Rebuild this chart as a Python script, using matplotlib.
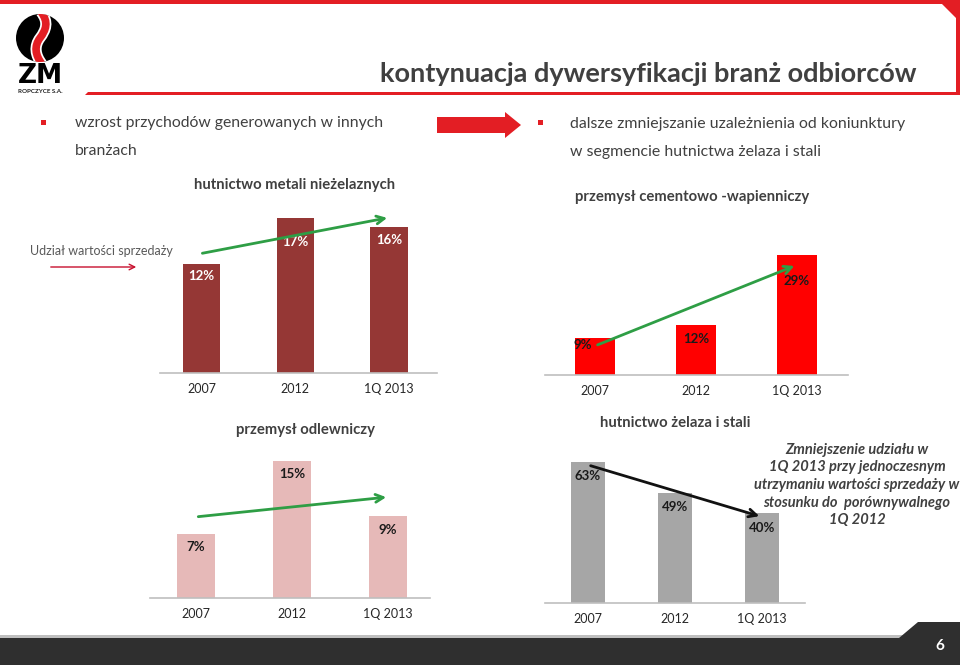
import matplotlib
matplotlib.use('Agg')
import matplotlib.pyplot as plt
from matplotlib.patches import Circle, Rectangle, Polygon, PathPatch
from matplotlib.path import Path

plt.rcParams['font.family'] = ['Lato', 'DejaVu Sans']

# dane
categories = ['2007', '2012', '1Q 2013']
metale_niezelazne = [12, 17, 16]
cementowo_wapienniczy = [9, 12, 29]
odlewniczy = [7, 15, 9]
zelaza_stali = [63, 49, 40]

W, H = 960, 665
fig = plt.figure(figsize=(9.6, 6.65), dpi=100)

# tło slajdu w pikselach
bg = fig.add_axes([0, 0, 1, 1])
bg.set_xlim(0, W)
bg.set_ylim(H, 0)
bg.axis('off')

RED = '#E31E24'
DARK = '#404040'

# ramka
bg.add_patch(Rectangle((0, 0), W, 4, color=RED, lw=0))
bg.add_patch(Rectangle((956, 0), 4, 95, color=RED, lw=0))
bg.add_patch(Polygon([(938, 0), (960, 0), (960, 22)], color=RED, lw=0))
bg.add_patch(Polygon([(88, 92), (960, 92), (960, 95), (85, 95)], color=RED, lw=0))

# logo
circ = Circle((40, 38), 24, color='black', lw=0)
bg.add_patch(circ)
s_path = Path([(41, 12), (49, 22), (46, 30), (40, 38), (34, 46), (35, 55), (42, 64)],
              [Path.MOVETO, Path.CURVE4, Path.CURVE4, Path.CURVE4,
               Path.CURVE4, Path.CURVE4, Path.CURVE4])
for lw, c in [(8, 'white'), (5.5, RED)]:
    p = PathPatch(s_path, fill=False, lw=lw, edgecolor=c, capstyle='butt')
    bg.add_patch(p)
    p.set_clip_path(circ)
bg.text(40, 83, 'ZM', ha='center', va='baseline', fontsize=19, fontweight='bold',
        color='black', family=['DejaVu Sans'])
bg.text(40, 91.5, 'ROPCZYCE S.A.', ha='center', va='center', fontsize=4.5,
        fontweight='bold', color='#222222')

# tytuł
bg.text(648, 74, 'kontynuacja dywersyfikacji branż odbiorców', ha='center',
        va='center', fontsize=19.5, fontweight='bold', color=DARK)

# punkty
bg.add_patch(Rectangle((41, 120), 5, 5, color=RED, lw=0))
bg.text(75, 123, 'wzrost przychodów generowanych w innych', va='center',
        fontsize=11.3, color=DARK)
bg.text(75, 151, 'branżach', va='center', fontsize=11.3, color=DARK)
bg.add_patch(Polygon([(437, 117), (505, 117), (505, 112), (521, 125),
                      (505, 138), (505, 133), (437, 133)], color=RED, lw=0))
bg.add_patch(Rectangle((538, 120), 5, 5, color=RED, lw=0))
bg.text(570, 124, 'dalsze zmniejszanie uzależnienia od koniunktury', va='center',
        fontsize=11.4, color=DARK)
bg.text(570, 152, 'w segmencie hutnictwa żelaza i stali', va='center',
        fontsize=11.4, color=DARK)

bg.text(30, 251, 'Udział wartości sprzedaży', va='center', fontsize=9,
        color='#595959')
bg.annotate('', xy=(139, 267), xytext=(48, 267),
            arrowprops=dict(arrowstyle='->', color='#C8102E', lw=1.0))

# stopka
bg.add_patch(Rectangle((0, 635), W, 3, color='#BFBFBF', lw=0))
bg.add_patch(Polygon([(0, 638), (899, 638), (918, 622), (960, 622), (960, H), (0, H)],
                     color='#2F2F2F', lw=0))
bg.text(940, 646, '6', ha='center', va='center', fontsize=11, fontweight='bold',
        color='white')


def px_box(x0, y0, x1, y1):
    return [x0 / W, 1 - y1 / H, (x1 - x0) / W, (y1 - y0) / H]


def chart(box, values, color, ytop, xlim, width, title, title_xy,
          label_color, offsets, arrow, arrow_color):
    ax = fig.add_axes(px_box(*box))
    ax.patch.set_alpha(0)
    x = range(len(categories))
    bars = ax.bar(x, values, width=width, color=color)
    ax.set_xlim(*xlim)
    ax.set_ylim(0, ytop)
    ax.set_xticks(list(x))
    ax.set_xticklabels(categories, fontsize=9, color='#262626')
    ax.tick_params(length=0, pad=7)
    ax.set_yticks([])
    for s in ['top', 'right', 'left']:
        ax.spines[s].set_visible(False)
    ax.spines['bottom'].set_color('#BFBFBF')
    ax.spines['bottom'].set_linewidth(1.2)
    for b, v, (dx, dy) in zip(bars, values, offsets):
        ax.annotate(f'{v}%', xy=(b.get_x() + b.get_width() / 2, v),
                    xytext=(dx, -dy), textcoords='offset pixels',
                    ha='center', va='center', fontsize=9.5, fontweight='bold',
                    color=label_color)
    ax.annotate('', xy=arrow[1], xytext=arrow[0],
                arrowprops=dict(arrowstyle='->', color=arrow_color, lw=2.0,
                                mutation_scale=14),
                annotation_clip=False)
    bg.text(title_xy[0], title_xy[1], title, ha='center', va='center',
            fontsize=10.7, fontweight='bold', color=DARK)
    return ax


chart((160, 205, 437, 373), metale_niezelazne, '#953735', 18.46, (-0.443, 2.512), 0.40,
      'hutnictwo metali nieżelaznych', (295, 185), 'white',
      [(0, 12), (0, 24), (0, 13)], ((-0.02, 13.1), (2.01, 17.1)), '#2E9E45')

chart((545, 230, 848, 375), cementowo_wapienniczy, '#FF0000', 34.9, (-0.495, 2.505), 0.40,
      'przemysł cementowo -wapienniczy', (692, 197), '#1A1A1A',
      [(-12, 7), (0, 14), (0, 26)], ((0.0, 7.0), (2.0, 26.5)), '#2E9E45')

chart((150, 445, 430, 598), odlewniczy, '#E6B9B8', 16.8, (-0.473, 2.436), 0.395,
      'przemysł odlewniczy', (305, 430), '#1A1A1A',
      [(0, 13), (0, 13), (0, 14)], ((0.0, 8.9), (2.01, 11.1)), '#2E9E45')

chart((545, 445, 805, 603), zelaza_stali, '#A6A6A6', 70.5, (-0.494, 2.494), 0.39,
      'hutnictwo żelaza i stali', (675, 423), '#1A1A1A',
      [(0, 14), (0, 14), (0, 15)], ((0.0, 61.6), (2.0, 38.4)), '#111111')

note_lines = ['Zmniejszenie udziału w', '1Q 2013 przy jednoczesnym',
              'utrzymaniu wartości sprzedaży w', 'stosunku do  porównywalnego',
              '1Q 2012']
for i, line in enumerate(note_lines):
    bg.text(857, 450 + i * 17.5, line, ha='center', va='center', fontsize=10.5,
            fontstyle='italic', fontweight='bold', color=DARK)

fig.savefig('out.png', dpi=100)
